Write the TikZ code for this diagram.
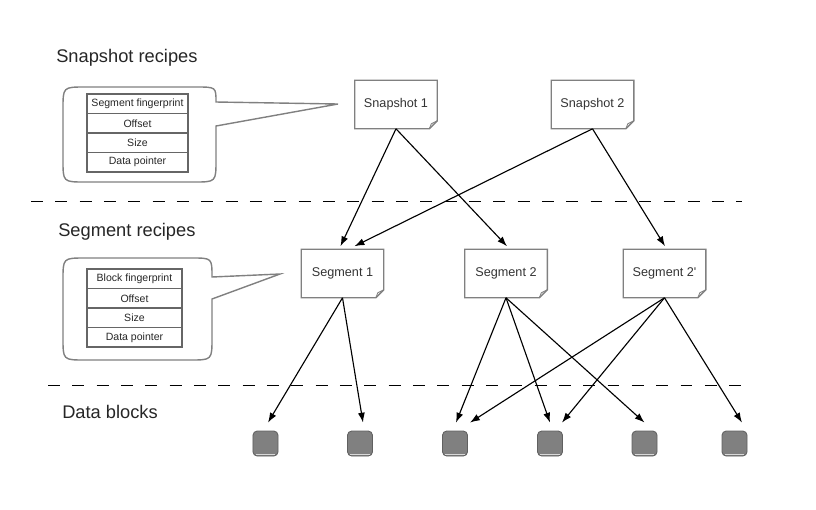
\documentclass[tikz,border=0pt]{standalone}
\usepackage{fontspec}
\setmainfont{Liberation Sans}
\usetikzlibrary{arrows.meta, positioning, calc}

\tikzset{
    heading/.style={anchor=west, inner sep=0pt, text=black!85, font=\fontsize{13}{15}\selectfont},
    recipe/.style={minimum width=2.05cm, minimum height=1.2cm, inner sep=0pt, text=black!80, font=\fontsize{9}{11}\selectfont},
    outline/.style={draw=gray, line width=1pt},
    field/.style={draw=gray!80!black, line width=0.8pt, minimum width=#1, minimum height=0.4875cm, inner sep=0pt, outer sep=0pt, text=black!85, font=\fontsize{7.5}{9}\selectfont},
    field/.default=2.525cm,
    callout/.style={draw=gray, line width=1pt},
    block/.style={fill=gray, draw=gray!75!black, line width=0.6pt, rounded corners=3pt, minimum size=0.625cm, inner sep=0pt},
    link/.style={-{Latex[length=7pt, width=5pt]}, line width=0.8pt},
    divider/.style={dash pattern=on 8.5pt off 8.8pt, line width=0.6pt}
}

\begin{document}
\begin{tikzpicture}[x=0.025cm, y=-0.025cm]
    \useasboundingbox (0,0) rectangle (816,509);

    % 1. Level headings
    \node[heading] (snaphead) at (56,58) {Snapshot recipes};
    \node[heading] (seghead) at (58,232) {Segment recipes};
    \node[heading] (datahead) at (62,412) {Data blocks};

    % Dashed level separators
    \draw[divider] (31,201) -- (742,201);
    \draw[divider] (48,385) -- (742,385);

    % 2. Recipe notes (outline with folded corner drawn below)
    \node[recipe] (snap1) at (396,104.5) {Snapshot 1};
    \node[recipe] (snap2) at (592.5,104.5) {Snapshot 2};
    \node[recipe] (seg1) at (342.5,273.5) {Segment 1};
    \node[recipe] (seg2) at (506,273.5) {Segment 2};
    \node[recipe] (seg2b) at (664.5,273.5) {Segment 2\textquotesingle};

    \foreach \n in {snap1, snap2, seg1, seg2, seg2b} {
        \draw[outline] (\n.north west) -- (\n.north east) -- ($(\n.south east)+(0,-8)$)
            -- ($(\n.south east)+(-8,0)$) -- (\n.south west) -- cycle;
        \draw[outline, line width=0.6pt] ($(\n.south east)+(0,-8)$) -- ($(\n.south east)+(-6,-5)$)
            -- ($(\n.south east)+(-8,0)$);
    }

    % 3. Callouts with record layouts
    \draw[callout] (338,104) -- (216,126) -- (216,160) .. controls (216,182) .. (194,182)
        -- (85,182) .. controls (63,182) .. (63,160) -- (63,109) .. controls (63,87) .. (85,87)
        -- (196,87) .. controls (216,87) .. (216,102) -- cycle;
    \node[field] (sfinger) at (137.5,103.75) {Segment fingerprint};
    \node[field, below=0pt of sfinger] (soffset) {Offset};
    \node[field, below=0pt of soffset] (ssize) {Size};
    \node[field, below=0pt of ssize] (sdata) {Data pointer};

    \draw[callout] (280,274) -- (212,299) -- (212,338) .. controls (212,360) .. (190,360)
        -- (85,360) .. controls (63,360) .. (63,338) -- (63,280) .. controls (63,258) .. (85,258)
        -- (192,258) .. controls (212,258) .. (212,277) -- cycle;
    \node[field=2.375cm] (bfinger) at (134.5,278.75) {Block fingerprint};
    \node[field=2.375cm, below=0pt of bfinger] (boffset) {Offset};
    \node[field=2.375cm, below=0pt of boffset] (bsize) {Size};
    \node[field=2.375cm, below=0pt of bsize] (bdata) {Data pointer};

    % 4. Data blocks
    \foreach \i/\x in {1/265.5, 2/360, 3/455, 4/550, 5/644.5, 6/734.5} {
        \node[block] (b\i) at (\x,443.5) {};
        \draw[gray!30, line width=0.8pt] ($(b\i.south west)+(3,-1.5)$) -- ($(b\i.south east)+(-3,-1.5)$);
    }

    % 5. References between levels
    \draw[link] (snap1.south) -- ($(seg1.north)+(-2,-3)$);
    \draw[link] (snap1.south) -- ($(seg2.north)+(1,-3)$);
    \draw[link] (snap2.south) -- ($(seg1.north)+(12,-3)$);
    \draw[link] (snap2.south) -- ($(seg2b.north)+(0.5,-3)$);

    \draw[link] (seg1.south) -- ($(b1.north)+(2.5,-8)$);
    \draw[link] (seg1.south) -- ($(b2.north)+(3,-8)$);
    \draw[link] (seg2.south) -- ($(b3.north)+(1,-8)$);
    \draw[link] (seg2.south) -- ($(b4.north)+(0,-8)$);
    \draw[link] (seg2.south) -- ($(b5.north)+(0,-8)$);
    \draw[link] (seg2b.south) -- ($(b3.north)+(15,-8)$);
    \draw[link] (seg2b.south) -- ($(b4.north)+(12,-8)$);
    \draw[link] (seg2b.south) -- ($(b6.north)+(7.5,-8)$);

\end{tikzpicture}
\end{document}
